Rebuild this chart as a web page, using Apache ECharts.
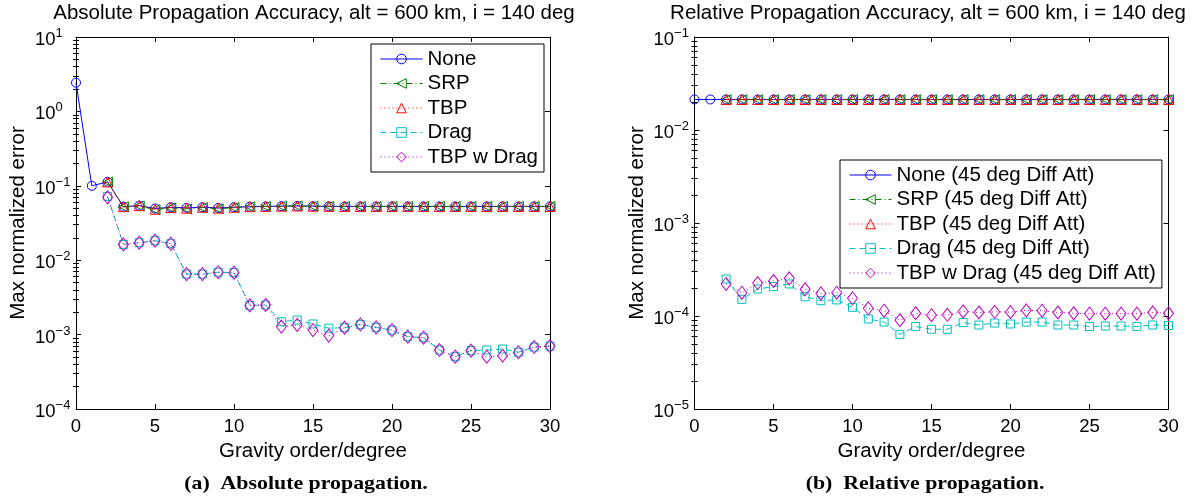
<!DOCTYPE html>
<html>
<head>
<meta charset="utf-8">
<script src="https://cdn.jsdelivr.net/npm/echarts@6/dist/echarts.min.js"></script>
<style>html,body{margin:0;padding:0;background:#fff}#c{width:1199px;height:500px}</style>
</head>
<body>
<div id="c"></div>
<script>
// ---- data ----
const orders = [0,1,2,3,4,5,6,7,8,9,10,11,12,13,14,15,16,17,18,19,20,21,22,23,24,25,26,27,28,29,30];
const xTicks = [0,5,10,15,20,25,30];

// Absolute propagation
const absNone = [2.43,0.100,0.113,0.0524,0.0541,0.0495,0.0515,0.0505,0.0515,0.0505,0.0515,0.0524,0.0528,0.0532,0.0536,0.0532,0.0530,0.0528,0.0528,0.0528,0.0528,0.0528,0.0528,0.0528,0.0528,0.0528,0.0528,0.0528,0.0528,0.0528,0.0528];
const absSRP  = [null,null,0.112,0.0520,0.0535,0.0478,0.0505,0.0490,0.0510,0.0490,0.0510,0.0522,0.0528,0.0532,0.0536,0.0532,0.0530,0.0528,0.0528,0.0528,0.0528,0.0528,0.0528,0.0528,0.0528,0.0528,0.0528,0.0528,0.0528,0.0528,0.0528];
const absTBP  = [null,null,0.113,0.0524,0.0541,0.0485,0.0510,0.0500,0.0515,0.0500,0.0515,0.0524,0.0528,0.0532,0.0536,0.0532,0.0530,0.0528,0.0528,0.0528,0.0528,0.0528,0.0528,0.0528,0.0528,0.0528,0.0528,0.0528,0.0528,0.0528,0.0528];
const absDrag = [null,null,0.072,0.0163,0.0172,0.0183,0.0167,0.0065,0.0065,0.0069,0.0068,0.00247,0.0025,0.00149,0.00157,0.00139,0.00122,0.00124,0.00137,0.00125,0.00115,0.00094,0.00091,0.00062,0.000505,0.00061,0.00062,0.00064,0.00058,0.00068,0.00070];
const absTBPDrag = [null,null,0.070,0.0163,0.0172,0.0183,0.0167,0.0065,0.0065,0.0069,0.0068,0.00247,0.0025,0.00128,0.00135,0.00115,0.00097,0.00124,0.00137,0.00125,0.00115,0.00094,0.00091,0.00062,0.000505,0.00061,0.000505,0.00052,0.00058,0.00068,0.00070];

// Relative propagation
const relNone = [0.0213,0.0213,0.0213,0.0213,0.0213,0.0213,0.0213,0.0213,0.0213,0.0213,0.0213,0.0213,0.0213,0.0213,0.0213,0.0213,0.0213,0.0213,0.0213,0.0213,0.0213,0.0213,0.0213,0.0213,0.0213,0.0213,0.0213,0.0213,0.0213,0.0213,0.0213];
const relSRP  = [null,null,0.0212,0.0212,0.0212,0.0212,0.0212,0.0212,0.0212,0.0212,0.0212,0.0212,0.0212,0.0212,0.0212,0.0212,0.0212,0.0212,0.0212,0.0212,0.0212,0.0212,0.0212,0.0212,0.0212,0.0212,0.0212,0.0212,0.0212,0.0212,0.0212];
const relTBP  = [null,null,0.0213,0.0213,0.0213,0.0213,0.0213,0.0213,0.0213,0.0213,0.0213,0.0213,0.0213,0.0213,0.0213,0.0213,0.0213,0.0213,0.0213,0.0213,0.0213,0.0213,0.0213,0.0213,0.0213,0.0213,0.0213,0.0213,0.0213,0.0213,0.0213];
const relDrag = [null,null,2.50e-4,1.51e-4,1.95e-4,2.07e-4,2.21e-4,1.61e-4,1.46e-4,1.49e-4,1.24e-4,9.3e-5,8.6e-5,6.35e-5,7.7e-5,7.2e-5,7.2e-5,8.5e-5,8.0e-5,8.4e-5,8.2e-5,8.6e-5,8.6e-5,8.0e-5,8.0e-5,7.7e-5,7.8e-5,7.8e-5,7.7e-5,8.0e-5,7.9e-5];
const relTBPDrag = [null,null,2.21e-4,1.78e-4,2.26e-4,2.38e-4,2.54e-4,1.94e-4,1.75e-4,1.78e-4,1.55e-4,1.21e-4,1.14e-4,9.0e-5,1.07e-4,1.02e-4,1.03e-4,1.12e-4,1.09e-4,1.11e-4,1.10e-4,1.15e-4,1.14e-4,1.09e-4,1.07e-4,1.06e-4,1.06e-4,1.06e-4,1.06e-4,1.09e-4,1.07e-4];

const absNames = ['None','SRP','TBP','Drag','TBP w Drag'];
const relNames = ['None (45 deg Diff Att)','SRP (45 deg Diff Att)','TBP (45 deg Diff Att)','Drag (45 deg Diff Att)','TBP w Drag (45 deg Diff Att)'];
const titles = ['Absolute Propagation Accuracy, alt = 600 km, i = 140 deg','Relative Propagation Accuracy, alt = 600 km, i = 140 deg'];
const captions = ['(a)  Absolute propagation.','(b)  Relative propagation.'];
const xName = 'Gravity order/degree';
const yName = 'Max normalized error';

// ---- styling ----
const FONT = "'Liberation Sans', Arial, Helvetica, sans-serif";
const BIG = 20.5;
const styles = [
  {color:'#0000ff', type:'solid', symbol:'circle', size:9, rot:0},
  {color:'#008000', type:[6,3,1,3], symbol:'triangle', size:10, rot:90},
  {color:'#ff0000', type:[1,3], symbol:'triangle', size:10, rot:0},
  {color:'#00bfbf', type:[6,4], symbol:'rect', size:8, rot:0},
  {color:'#bf00bf', type:[1,3], symbol:'diamond', size:[10,13], rot:0}
];

function pairs(vals){ const out=[]; orders.forEach((o,i)=>{ if(vals[i]!=null) out.push([o, vals[i]]); }); return out; }
function minorVals(lo, hi){ const out=[]; for(let e=lo;e<hi;e++){ for(let k=2;k<=9;k++) out.push(k*Math.pow(10,e)); } return out; }

function expLabel(v){ const e=Math.round(Math.log10(v)); return '{b|10}{e|'+(e<0?'\u2212'+(-e):e)+'}'; }

const grids = [
  {left:76, top:37, width:474, height:372},
  {left:694.5, top:37, width:474, height:372}
];
const yRange = [[1e-4,10,-4,1],[1e-5,0.1,-5,-1]];

const xAxes=[], yAxes=[];
[0,1].forEach(g=>{
  xAxes.push({type:'value', gridIndex:g, min:0, max:30, interval:5, position:'bottom',
    name:xName, nameLocation:'middle', nameGap:26, nameTextStyle:{fontSize:BIG, color:'#000', fontFamily:FONT},
    axisLine:{show:true, onZero:false, lineStyle:{color:'#000', width:1}},
    axisTick:{inside:true, length:5, lineStyle:{color:'#000'}},
    axisLabel:{fontSize:18.5, color:'#000', fontFamily:FONT, margin:8},
    splitLine:{show:false}});
  xAxes.push({type:'value', gridIndex:g, min:0, max:30, interval:5, position:'top',
    axisLine:{show:true, onZero:false, lineStyle:{color:'#000', width:1}},
    axisTick:{inside:true, length:5, lineStyle:{color:'#000'}},
    axisLabel:{show:false}, splitLine:{show:false}});
  const [mn,mx,e0,e1]=yRange[g];
  const base={type:'log', logBase:10, gridIndex:g, min:mn, max:mx, splitLine:{show:false}};
  yAxes.push(Object.assign({}, base, {position:'left',
    name:yName, nameLocation:'middle', nameGap:47, nameTextStyle:{fontSize:BIG, color:'#000', fontFamily:FONT},
    axisLine:{show:true, onZero:false, lineStyle:{color:'#000', width:1}},
    axisTick:{inside:true, length:5, lineStyle:{color:'#000'}},
    axisLabel:{align:'left', margin:41, formatter:expLabel, fontFamily:FONT,
      rich:{b:{fontSize:18.5, color:'#000', fontFamily:FONT, lineHeight:20, padding:[6,0,0,0]},
            e:{fontSize:13, color:'#000', fontFamily:FONT, lineHeight:13, verticalAlign:'top'}}}}));
  yAxes.push(Object.assign({}, base, {position:'right',
    axisLine:{show:true, onZero:false, lineStyle:{color:'#000', width:1}},
    axisTick:{inside:true, length:5, lineStyle:{color:'#000'}},
    axisLabel:{show:false}}));
  const mv = minorVals(e0,e1);
  yAxes.push(Object.assign({}, base, {position:'left', axisLine:{show:false},
    axisTick:{inside:true, length:3, customValues:mv, lineStyle:{color:'#000'}}, axisLabel:{show:false}}));
  yAxes.push(Object.assign({}, base, {position:'right', axisLine:{show:false},
    axisTick:{inside:true, length:3, customValues:mv, lineStyle:{color:'#000'}}, axisLabel:{show:false}}));
});

const absData=[absNone,absSRP,absTBP,absDrag,absTBPDrag];
const relData=[relNone,relSRP,relTBP,relDrag,relTBPDrag];
const series=[];
function addSeries(names, datas, g){
  names.forEach((n,i)=>{
    const s=styles[i];
    series.push({type:'line', name:n, xAxisIndex:g*2, yAxisIndex:g*4, data:pairs(datas[i]),
      symbol:s.symbol, symbolSize:s.size, symbolRotate:s.rot, showAllSymbol:true,
      lineStyle:{color:s.color, width:1, type:s.type},
      itemStyle:{color:'rgba(0,0,0,0)', borderColor:s.color, borderWidth:1},
      emphasis:{disabled:true}, z:2+i});
  });
}
addSeries(absNames, absData, 0);
addSeries(relNames, relData, 1);

const legendBase={orient:'vertical', itemWidth:42, itemHeight:12, itemGap:2.5,
  borderColor:'#000', borderWidth:1, backgroundColor:'#fff', selectedMode:false,
  lineStyle:{width:1}, itemStyle:{borderWidth:1},
  textStyle:{fontSize:BIG, color:'#000', fontFamily:FONT, lineHeight:22}};

const option={
  animation:false,
  backgroundColor:'#fff',
  grid:grids,
  xAxis:xAxes,
  yAxis:yAxes,
  legend:[
    Object.assign({}, legendBase, {data:absNames, left:371, top:44, padding:[4,6,4,9]}),
    Object.assign({}, legendBase, {data:relNames, left:840, top:160, padding:[4,6,4,9]})
  ],
  series:series,
  graphic:[
    {type:'text', x:314, y:13, style:{text:titles[0], font:BIG+'px '+FONT, fill:'#000', textAlign:'center', textVerticalAlign:'middle'}},
    {type:'text', x:928, y:13, style:{text:titles[1], font:BIG+'px '+FONT, fill:'#000', textAlign:'center', textVerticalAlign:'middle'}},
    {type:'text', x:306, y:484, scaleX:1.15, style:{text:captions[0], font:"bold 19px 'Liberation Serif', 'Times New Roman', serif", fill:'#000', textAlign:'center', textVerticalAlign:'middle'}},
    {type:'text', x:925, y:484, scaleX:1.15, style:{text:captions[1], font:"bold 19px 'Liberation Serif', 'Times New Roman', serif", fill:'#000', textAlign:'center', textVerticalAlign:'middle'}}
  ]
};
const chart=echarts.init(document.getElementById('c'),null,{renderer:'canvas'});
chart.setOption(option);
</script>
</body>
</html>
